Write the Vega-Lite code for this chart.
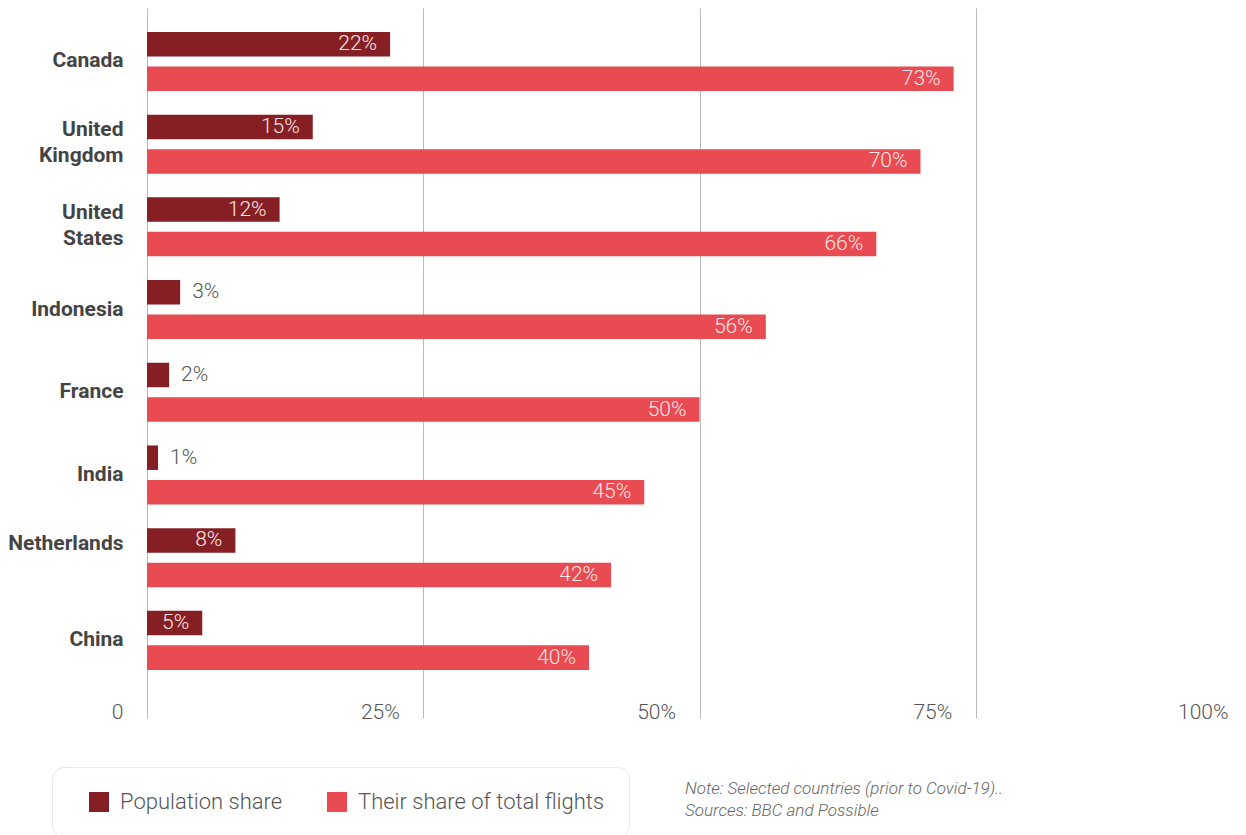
{
  "$schema": "https://vega.github.io/schema/vega-lite/v6.json",
  "autosize": "none",
  "padding": {"left": 147, "top": 8, "right": 0, "bottom": 117},
  "width": 1099,
  "height": 710,
  "background": "white",
  "config": {"view": {"stroke": null}},
  "title": {
    "text": ["Note: Selected countries (prior to Covid-19)..", "Sources: BBC and Possible"],
    "orient": "bottom",
    "anchor": "start",
    "frame": "group",
    "font": "Roboto",
    "fontStyle": "italic",
    "fontWeight": 300,
    "fontSize": 17,
    "color": "#666666",
    "lineHeight": 22,
    "dx": 538,
    "offset": -57
  },
  "data": {
    "values": [
      {"country": "Canada", "series": "Population share", "value": 0.22},
      {"country": "Canada", "series": "Their share of total flights", "value": 0.73},
      {"country": "United Kingdom", "series": "Population share", "value": 0.15},
      {"country": "United Kingdom", "series": "Their share of total flights", "value": 0.70},
      {"country": "United States", "series": "Population share", "value": 0.12},
      {"country": "United States", "series": "Their share of total flights", "value": 0.66},
      {"country": "Indonesia", "series": "Population share", "value": 0.03},
      {"country": "Indonesia", "series": "Their share of total flights", "value": 0.56},
      {"country": "France", "series": "Population share", "value": 0.02},
      {"country": "France", "series": "Their share of total flights", "value": 0.50},
      {"country": "India", "series": "Population share", "value": 0.01},
      {"country": "India", "series": "Their share of total flights", "value": 0.45},
      {"country": "Netherlands", "series": "Population share", "value": 0.08},
      {"country": "Netherlands", "series": "Their share of total flights", "value": 0.42},
      {"country": "China", "series": "Population share", "value": 0.05},
      {"country": "China", "series": "Their share of total flights", "value": 0.40}
    ]
  },
  "encoding": {
    "y": {
      "field": "country",
      "type": "nominal",
      "sort": ["Canada", "United Kingdom", "United States", "Indonesia", "France", "India", "Netherlands", "China"],
      "scale": {"paddingInner": 0, "paddingOuter": 0.2925, "align": 0.25},
      "axis": {
        "title": null,
        "domain": false,
        "ticks": false,
        "grid": false,
        "labelExpr": "split(datum.label, ' ')",
        "labelFont": "Roboto",
        "labelFontWeight": "bold",
        "labelFontSize": 21,
        "labelColor": "#444444",
        "labelLineHeight": 26,
        "labelPadding": 24,
        "labelOffset": {
          "condition": {"test": "datum.value == 'United Kingdom' || datum.value == 'United States' || datum.value == 'Netherlands'", "value": -14},
          "value": 0
        }
      }
    },
    "yOffset": {
      "field": "series",
      "type": "nominal",
      "sort": ["Population share", "Their share of total flights"],
      "scale": {"paddingInner": 0.29, "paddingOuter": 0.343}
    },
    "x": {
      "field": "value",
      "type": "quantitative",
      "scale": {"domain": [0, 1], "range": [0, 1105], "nice": false},
      "axis": {
        "title": null,
        "orient": "bottom",
        "values": [0, 0.25, 0.5, 0.75, 1],
        "format": ".0%",
        "labelExpr": "datum.value == 0 ? '0' : datum.label",
        "grid": true,
        "gridColor": "#bbbbbb",
        "gridWidth": 1,
        "domain": false,
        "ticks": false,
        "tickSize": 0,
        "labelFlush": false,
        "labelOverlap": false,
        "labelAlign": "right",
        "labelOffset": -24,
        "labelBaseline": "alphabetic",
        "labelPadding": 0,
        "labelFont": "Roboto",
        "labelFontWeight": 300,
        "labelFontSize": 21,
        "labelColor": "#555555"
      }
    }
  },
  "layer": [
    {
      "mark": {"type": "bar"},
      "encoding": {
        "color": {
          "field": "series",
          "type": "nominal",
          "scale": {"domain": ["Population share", "Their share of total flights"], "range": ["#861F24", "#E84B51"]},
          "legend": {
            "title": null,
            "orient": "none",
            "legendX": -95,
            "legendY": 759,
            "direction": "horizontal",
            "fillColor": "white",
            "strokeColor": "#e8e8e8",
            "cornerRadius": 12,
            "padding": 24,
            "symbolOffset": 12,
            "symbolType": "square",
            "symbolSize": 400,
            "symbolStrokeWidth": 0,
            "labelFont": "Roboto",
            "labelFontWeight": 300,
            "labelFontSize": 22,
            "labelColor": "#555555",
            "labelOffset": 10,
            "labelLimit": 400,
            "columnPadding": 31
          }
        }
      }
    },
    {
      "transform": [{"filter": "datum.value >= 0.05"}],
      "mark": {"type": "text", "align": "right", "baseline": "middle", "dx": -13, "font": "Roboto", "fontWeight": 300, "fontSize": 21, "color": "#fbe6e6"},
      "encoding": {
        "text": {"field": "value", "type": "quantitative", "format": ".0%"}
      }
    },
    {
      "transform": [{"filter": "datum.value < 0.05"}],
      "mark": {"type": "text", "align": "left", "baseline": "middle", "dx": 12, "font": "Roboto", "fontWeight": 300, "fontSize": 21, "color": "#555555"},
      "encoding": {
        "text": {"field": "value", "type": "quantitative", "format": ".0%"}
      }
    }
  ]
}
